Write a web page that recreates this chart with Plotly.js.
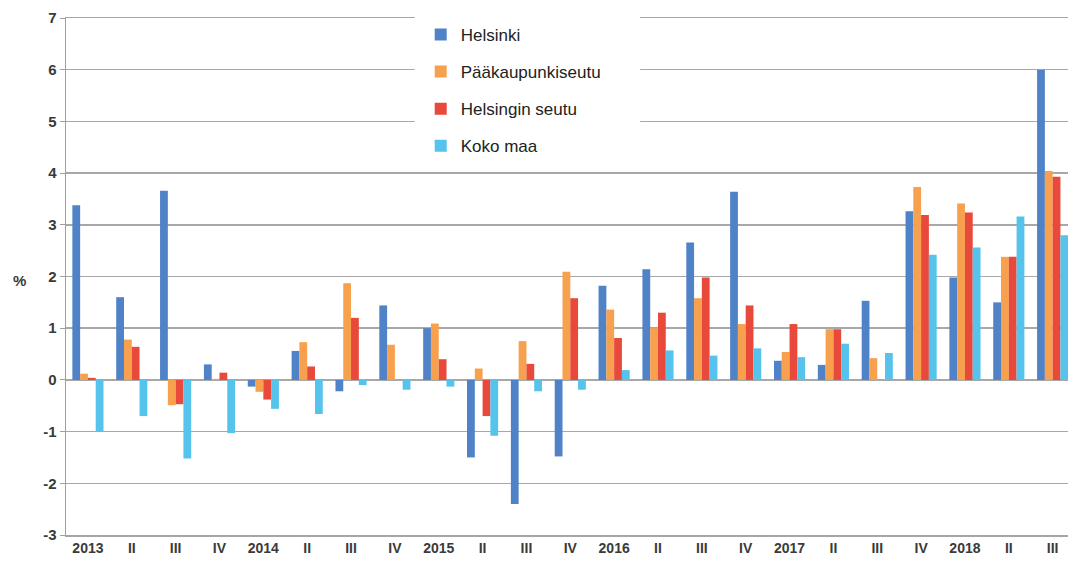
<!DOCTYPE html>
<html>
<head>
<meta charset="utf-8">
<script src="https://cdn.plot.ly/plotly-3.0.1.min.js"></script>
<style>html,body{margin:0;padding:0;background:#fff}#chart{width:1068px;height:561px}</style>
</head>
<body>
<div id="chart"></div>
<script>
const quarterLabels = ["2013","II","III","IV","2014","II","III","IV","2015","II","III","IV","2016","II","III","IV","2017","II","III","IV","2018","II","III"];
const seriesNames = ["Helsinki","Pääkaupunkiseutu","Helsingin seutu","Koko maa"];
const helsinki = [3.38,1.60,3.66,0.30,-0.13,0.56,-0.22,1.44,1.00,-1.50,-2.40,-1.48,1.82,2.14,2.66,3.64,0.37,0.29,1.53,3.26,1.98,1.50,6.00];
const paakaupunkiseutu = [0.12,0.78,-0.49,0.02,-0.23,0.73,1.87,0.68,1.09,0.22,0.75,2.09,1.36,1.00,1.58,1.08,0.54,0.98,0.42,3.73,3.41,2.38,4.04];
const helsinginSeutu = [0.04,0.64,-0.47,0.14,-0.38,0.26,1.20,0.00,0.40,-0.70,0.31,1.58,0.81,1.30,1.98,1.44,1.08,0.98,0.00,3.19,3.24,2.38,3.93];
const kokoMaa = [-0.99,-0.70,-1.52,-1.03,-0.56,-0.66,-0.10,-0.19,-0.13,-1.08,-0.22,-0.19,0.19,0.57,0.47,0.61,0.44,0.70,0.52,2.42,2.56,3.16,2.80];
const yTickValues = [-3,-2,-1,0,1,2,3,4,5,6,7];
const yTickLabels = ["-3","-2","-1","0","1","2","3","4","5","6","7"];
const colors = ["#4f82c6","#f7a04d","#e8493a","#55c3ec"];

const xIdx = quarterLabels.map((_, i) => i);
const allSeries = [helsinki, paakaupunkiseutu, helsinginSeutu, kokoMaa];
const traces = allSeries.map((vals, k) => ({
  type: "bar",
  x: xIdx,
  y: vals,
  name: seriesNames[k],
  legendgroup: "g" + k,
  marker: {color: colors[k], line: {width: 0}},
  hoverinfo: "x+y+name"
}));

const fontFam = "Liberation Sans, Arial, sans-serif";
const tickFont = {family: fontFam, size: 15, color: "#3a3a3a", weight: "bold"};
const layout = {
  width: 1068,
  height: 561,
  paper_bgcolor: "#ffffff",
  plot_bgcolor: "#ffffff",
  margin: {l: 66, r: 0, t: 18, b: 26},
  barmode: "group",
  bargap: 0.29,
  bargroupgap: 0,
  font: {family: fontFam, size: 14, color: "#333"},
  xaxis: {
    range: [-0.5, 22.35],
    tickvals: xIdx,
    ticktext: quarterLabels,
    tickfont: {family: fontFam, size: 14, color: "#3a3a3a", weight: "bold"},
    showgrid: false,
    zeroline: false,
    showline: true,
    mirror: true,
    linecolor: "#a6a6a6",
    linewidth: 1.5,
    ticks: "",
    fixedrange: true
  },
  yaxis: {
    range: [-3, 7],
    tickvals: yTickValues,
    ticktext: yTickLabels,
    tickfont: tickFont,
    showgrid: true,
    gridcolor: "#a8a8a8",
    gridwidth: 1.5,
    zeroline: true,
    zerolinecolor: "#a8a8a8",
    zerolinewidth: 1.5,
    showline: true,
    linecolor: "#a0a0a0",
    linewidth: 1.5,
    ticks: "outside",
    ticklen: 5,
    tickcolor: "#a0a0a0",
    fixedrange: true
  },
  legend: {
    x: 0.354,
    xanchor: "left",
    y: 1.002,
    yanchor: "top",
    bgcolor: "rgba(255,255,255,0)",
    borderwidth: 0,
    traceorder: "grouped",
    tracegroupgap: 12,
    itemwidth: 30,
    font: {family: fontFam, size: 17, color: "#222"}
  },
  shapes: [{
    type: "rect",
    xref: "paper", yref: "paper",
    x0: 0.348, x1: 0.573,
    y0: 0.716, y1: 1.025,
    fillcolor: "#ffffff",
    line: {width: 0},
    layer: "above"
  }],
  annotations: [{
    xref: "paper", yref: "y",
    x: -0.055, y: 1.93,
    text: "%",
    showarrow: false,
    font: {family: fontFam, size: 15, color: "#3a3a3a", weight: "bold"}
  }],
  showlegend: true
};

Plotly.newPlot("chart", traces, layout, {displayModeBar: false, staticPlot: true});
</script>
</body>
</html>
